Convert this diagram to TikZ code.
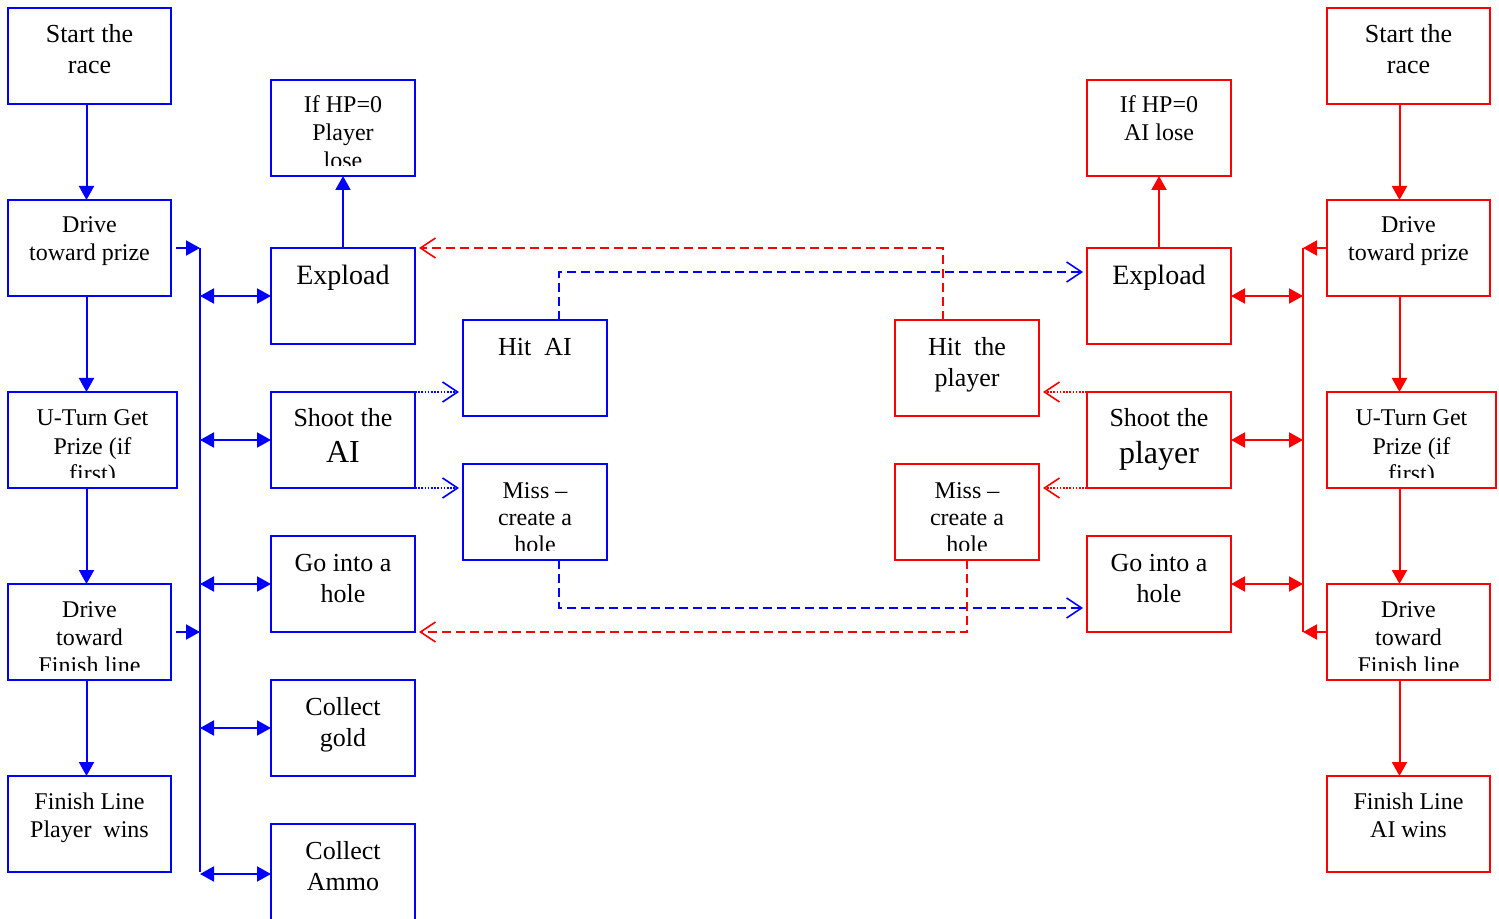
\documentclass[tikz,border=0pt]{standalone}
\usepackage{fontspec}
\setmainfont{Liberation Serif}
\usetikzlibrary{arrows.meta,calc,fit}
\definecolor{bl}{RGB}{0,0,255}
\definecolor{rd}{RGB}{255,0,0}
\tikzset{
  bbox/.style={draw=bl, line width=1pt, inner sep=0pt, outer sep=0pt},
  rbox/.style={draw=rd, line width=1pt, inner sep=0pt, outer sep=0pt},
  tA/.style={anchor=base, inner sep=0pt, font=\fontsize{12}{14}\selectfont},
  tM/.style={anchor=base, inner sep=0pt, font=\fontsize{12}{13.5}\selectfont},
  tB/.style={anchor=base, inner sep=0pt, font=\fontsize{13}{15.5}\selectfont},
  tC/.style={anchor=base, inner sep=0pt, font=\fontsize{14}{17}\selectfont},
  tri/.tip={Triangle[length=7pt,width=7.5pt]},
  barb/.tip={Straight Barb[length=7.5pt,width=10pt]},
  bline/.style={draw=bl, line width=1pt},
  rline/.style={draw=rd, line width=1pt},
  barr/.style={bline, -tri},
  rarr/.style={rline, -tri},
  bdbl/.style={bline, tri-tri},
  rdbl/.style={rline, tri-tri},
  bdash/.style={draw=bl, line width=0.8pt, dash pattern=on 4.5pt off 2.5pt, -barb},
  rdash/.style={draw=rd, line width=0.8pt, dash pattern=on 4.5pt off 2.5pt, -barb},
  bdot/.style={draw=bl, line width=0.8pt, dash pattern=on 0.8pt off 0.8pt, -barb},
  rdot/.style={draw=rd, line width=0.8pt, dash pattern=on 0.8pt off 0.8pt, -barb},
}
\newcommand\mlines[1]{\begin{tabular}[t]{@{}c@{}}#1\end{tabular}}
\newcommand\boxtxt[4]{\node[#3] (#1-t) at ($(#1.north)+(0,#2)$) {\mlines{#4}};}
\newcommand\boxtxtclip[5]{\begin{scope}\clip (#1.north west) rectangle ($(#1.south east)+(0,-#4)$);
  \node[#3] (#1-t) at ($(#1.north)+(0,#2)$) {\mlines{#5}};\end{scope}}
\begin{document}
\begin{tikzpicture}[x=0.5pt,y=-0.5pt]
\useasboundingbox (0,0) rectangle (1499,919);
% ---------- boxes: left (blue)
\node[bbox, fit={(8,8)(171,104)}] (sL) {};
\node[bbox, fit={(8,200)(171,296)}] (dpL) {};
\node[bbox, fit={(8,392)(177,488)}] (uL) {};
\node[bbox, fit={(8,584)(171,680)}] (dfL) {};
\node[bbox, fit={(8,776)(171,872)}] (fL) {};
\node[bbox, fit={(271,80)(415,176)}] (hpL) {};
\node[bbox, fit={(271,248)(415,344)}] (exL) {};
\node[bbox, fit={(271,392)(415,488)}] (shL) {};
\node[bbox, fit={(271,536)(415,632)}] (goL) {};
\node[bbox, fit={(271,680)(415,776)}] (cg) {};
\node[bbox, fit={(271,824)(415,924)}] (ca) {};
\node[bbox, fit={(463,320)(607,416)}] (hitA) {};
\node[bbox, fit={(463,464)(607,560)}] (missA) {};
% ---------- boxes: right (red)
\node[rbox, fit={(895,320)(1039,416)}] (hitP) {};
\node[rbox, fit={(895,464)(1039,560)}] (missP) {};
\node[rbox, fit={(1087,80)(1231,176)}] (hpR) {};
\node[rbox, fit={(1087,248)(1231,344)}] (exR) {};
\node[rbox, fit={(1087,392)(1231,488)}] (shR) {};
\node[rbox, fit={(1087,536)(1231,632)}] (goR) {};
\node[rbox, fit={(1327,8)(1490,104)}] (sR) {};
\node[rbox, fit={(1327,200)(1490,296)}] (dpR) {};
\node[rbox, fit={(1327,392)(1496,488)}] (uR) {};
\node[rbox, fit={(1327,584)(1490,680)}] (dfR) {};
\node[rbox, fit={(1327,776)(1490,872)}] (fR) {};
% ---------- texts
\boxtxt{sL}{35}{tB}{Start the\\race}
\boxtxt{dpL}{33}{tA}{Drive\\toward prize}
\boxtxtclip{uL}{34}{tA}{11}{U-Turn Get\\Prize (if\\first)}
\boxtxtclip{dfL}{33}{tA}{10}{Drive\\toward\\Finish line}
\boxtxt{fL}{33}{tA}{Finish Line\\Player\ \ wins}
\boxtxtclip{hpL}{33}{tA}{10}{If HP=0\\Player\\lose}
\boxtxt{exL}{37}{tC}{Expload}
\boxtxt{shL}{35}{tB}{Shoot the\\[2.5pt]{\fontsize{16}{19}\selectfont AI}}
\boxtxt{goL}{35}{tB}{Go into a\\hole}
\boxtxt{cg}{35}{tB}{Collect\\gold}
\boxtxt{ca}{35}{tB}{Collect\\Ammo}
\boxtxt{hitA}{36}{tB}{Hit\ \ AI}
\boxtxtclip{missA}{34}{tM}{10}{Miss \textendash\\create a\\hole}
\boxtxt{hitP}{36}{tB}{Hit\ \ the\\player}
\boxtxtclip{missP}{34}{tM}{10}{Miss \textendash\\create a\\hole}
\boxtxt{hpR}{33}{tA}{If HP=0\\AI lose}
\boxtxt{exR}{37}{tC}{Expload}
\boxtxt{shR}{35}{tB}{Shoot the\\[2.5pt]{\fontsize{16}{19}\selectfont player}}
\boxtxt{goR}{35}{tB}{Go into a\\hole}
\boxtxt{sR}{35}{tB}{Start the\\race}
\boxtxt{dpR}{33}{tA}{Drive\\toward prize}
\boxtxtclip{uR}{34}{tA}{11}{U-Turn Get\\Prize (if\\first)}
\boxtxtclip{dfR}{33}{tA}{10}{Drive\\toward\\Finish line}
\boxtxt{fR}{33}{tA}{Finish Line\\AI wins}
% ---------- left connectors
\coordinate (colL) at (86.5,0);
\coordinate (busLt) at (200,248);
\coordinate (busLb) at (200,872);
\draw[barr] (sL.south -| colL) -- (dpL.north -| colL);
\draw[barr] (dpL.south -| colL) -- (uL.north -| colL);
\draw[barr] (uL.south -| colL) -- (dfL.north -| colL);
\draw[barr] (dfL.south -| colL) -- (fL.north -| colL);
\draw[bline] (busLt) -- (busLb);
\draw[barr] ($(dpL.east)+(5,0)$) -- (dpL.east -| busLt);
\draw[barr] ($(dfL.east)+(5,0)$) -- (dfL.east -| busLt);
\foreach \n in {exL,shL,goL,cg,ca} \draw[bdbl] (\n.west -| busLt) -- (\n.west);
\draw[barr] (exL.north) -- (hpL.south);
% ---------- right connectors
\coordinate (colR) at (1399.5,0);
\coordinate (busRt) at (1303,248);
\coordinate (busRb) at (1303,632);
\draw[rarr] (sR.south -| colR) -- (dpR.north -| colR);
\draw[rarr] (dpR.south -| colR) -- (uR.north -| colR);
\draw[rarr] (uR.south -| colR) -- (dfR.north -| colR);
\draw[rarr] (dfR.south -| colR) -- (fR.north -| colR);
\draw[rline] (busRt) -- (busRb);
\draw[rarr] (dpR.west) -- (dpR.west -| busRt);
\draw[rarr] (dfR.west) -- (dfR.west -| busRt);
\foreach \n in {exR,shR,goR} \draw[rdbl] (\n.east) -- (\n.east -| busRt);
\draw[rarr] (exR.north) -- (hpR.south);
% ---------- cross connectors
\draw[bdot] (shL.north east) -- ($(hitA.west |- shL.north)+(-4,0)$);
\draw[bdot] (shL.south east) -- ($(missA.west |- shL.south)+(-4,0)$);
\draw[rdot] (shR.north west) -- ($(hitP.east |- shR.north)+(4,0)$);
\draw[rdot] (shR.south west) -- ($(missP.east |- shR.south)+(4,0)$);
\draw[bdash] ($(hitA.north)+(24,0)$) |- ($(exR.north west)+(-4,24)$);
\draw[rdash] ($(hitP.north)+(-24,0)$) |- ($(exL.north east)+(4,0)$);
\draw[bdash] ($(missA.south)+(24,0)$) |- ($(goR.south west)+(-4,-24)$);
\draw[rdash] (missP.south) |- ($(goL.south east)+(4,0)$);
\end{tikzpicture}
\end{document}
